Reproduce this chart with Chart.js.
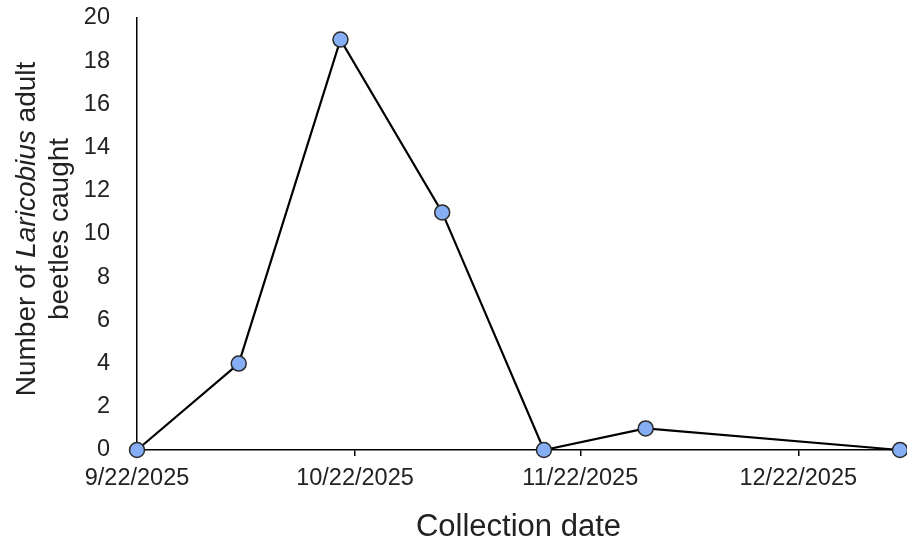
<!DOCTYPE html>
<html>
<head>
<meta charset="utf-8">
<script src="https://cdn.jsdelivr.net/npm/chart.js@4.4.1/dist/chart.umd.min.js"></script>
<style>
html, body { margin: 0; padding: 0; background: #fff; }
#wrap { width: 907px; height: 548px; }
</style>
</head>
<body>
<div id="wrap"><canvas id="beetleChart"></canvas></div>
<script>
// Collection dates and adult Laricobius counts
const collectionDates = ['2025-09-22', '2025-10-06', '2025-10-20', '2025-11-03', '2025-11-17', '2025-12-01', '2026-01-05'];
const beetleCounts = [0, 4, 19, 11, 0, 1, 0];
const tickDates = ['2025-09-22', '2025-10-22', '2025-11-22', '2025-12-22'];
const yMin = 0;
const yMax = 20;
const yStep = 2;

const textColor = '#222222';
const fontFamily = '"Liberation Sans", Arial, sans-serif';

// days since the first collection
const startTime = Date.parse(collectionDates[0]);
const dayOf = d => Math.round((Date.parse(d) - startTime) / 86400000);
const formatDate = d => {
    const [y, m, dd] = d.split('-');
    return `${+m}/${+dd}/${y}`;
};
const tickLabels = {};
tickDates.forEach(d => { tickLabels[dayOf(d)] = formatDate(d); });

const points = collectionDates.map((d, i) => ({ x: dayOf(d), y: beetleCounts[i] }));

// y axis title with italic genus name
const yTitlePlugin = {
    id: 'yTitle',
    afterDraw(chart) {
        const ctx = chart.ctx;
        const centerY = 229;
        const size = 28;
        const line1 = [
            { text: 'Number of ', style: '' },
            { text: 'Laricobius', style: 'italic ' },
            { text: ' adult', style: '' }
        ];
        ctx.save();
        ctx.translate(0, centerY);
        ctx.rotate(-Math.PI / 2);
        ctx.fillStyle = textColor;
        ctx.textBaseline = 'alphabetic';
        ctx.textAlign = 'left';
        let total = 0;
        line1.forEach(p => {
            ctx.font = `${p.style}${size}px ${fontFamily}`;
            p.w = ctx.measureText(p.text).width;
            total += p.w;
        });
        let x = -total / 2;
        line1.forEach(p => {
            ctx.font = `${p.style}${size}px ${fontFamily}`;
            ctx.fillText(p.text, x, 35);
            x += p.w;
        });
        ctx.font = `${size}px ${fontFamily}`;
        ctx.textAlign = 'center';
        ctx.fillText('beetles caught', 0, 68);
        ctx.restore();
    }
};

const ctx = document.getElementById('beetleChart').getContext('2d');
const beetleChart = new Chart(ctx, {
    type: 'line',
    data: {
        datasets: [{
            label: 'Laricobius adults',
            data: points,
            borderColor: '#000000',
            borderWidth: 2.2,
            tension: 0,
            fill: false,
            pointRadius: 7.5,
            pointHoverRadius: 7.5,
            pointBackgroundColor: '#86aef4',
            pointBorderColor: '#2a2a2a',
            pointBorderWidth: 1.5,
            clip: false
        }]
    },
    options: {
        responsive: true,
        maintainAspectRatio: false,
        animation: false,
        layout: {
            autoPadding: false,
            padding: { left: 0, right: 7, top: 18, bottom: 0 }
        },
        plugins: {
            legend: { display: false },
            tooltip: { enabled: false }
        },
        scales: {
            x: {
                type: 'linear',
                min: dayOf(collectionDates[0]),
                max: dayOf(collectionDates[collectionDates.length - 1]),
                afterBuildTicks: scale => {
                    scale.ticks = tickDates.map(d => ({ value: dayOf(d) }));
                },
                afterFit: scale => { scale.height = 98; },
                ticks: {
                    autoSkip: false,
                    maxRotation: 0,
                    padding: 8,
                    color: textColor,
                    font: { family: fontFamily, size: 23.5 },
                    callback: v => tickLabels[v] || ''
                },
                grid: {
                    drawOnChartArea: false,
                    drawTicks: true,
                    tickLength: 6,
                    color: '#000000',
                    lineWidth: 1.5
                },
                border: { display: true, color: '#000000', width: 1.5 },
                title: {
                    display: true,
                    text: 'Collection date',
                    color: textColor,
                    font: { family: fontFamily, size: 31 },
                    padding: { top: 0, bottom: 2 }
                }
            },
            y: {
                min: yMin,
                max: yMax,
                afterFit: scale => {
                    scale.width = 137;
                    scale.paddingTop = 0;
                    scale.paddingBottom = 0;
                },
                ticks: {
                    stepSize: yStep,
                    padding: 27,
                    color: textColor,
                    font: { family: fontFamily, size: 23.5 }
                },
                grid: { display: false, drawTicks: false },
                border: { display: true, color: '#000000', width: 1.5 }
            }
        }
    },
    plugins: [yTitlePlugin]
});
</script>
</body>
</html>
